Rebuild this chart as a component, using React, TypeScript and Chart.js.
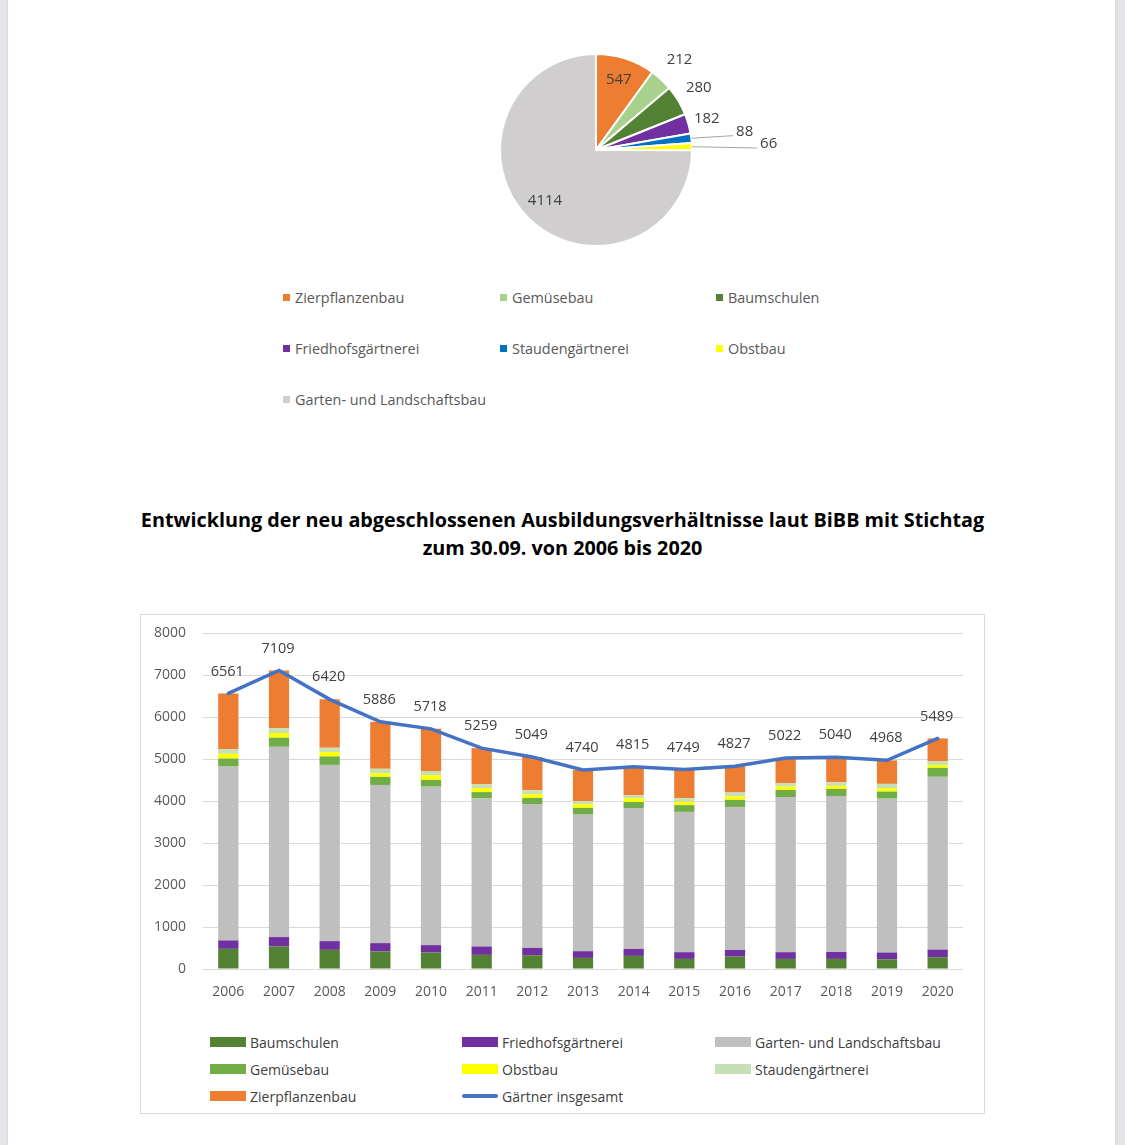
import React, { useEffect, useRef } from "react";
import { Chart, registerables } from "chart.js";
Chart.register(...registerables);

// ---------- Pie data (2020) ----------
const pieLabels = [
  "Zierpflanzenbau",
  "Gemüsebau",
  "Baumschulen",
  "Friedhofsgärtnerei",
  "Staudengärtnerei",
  "Obstbau",
  "Garten- und Landschaftsbau",
];
const pieValues = [547, 212, 280, 182, 88, 66, 4114];
const pieColors = ["#ED7D31", "#A9D18E", "#548235", "#7030A0", "#0070C0", "#FFFF00", "#D0CECE"];
// label distance from centre, as a factor of the radius
const pieLabelRadius = [0.77, 1.28, 1.25, 1.2, 1.56, 1.8, 0.75];
const pieLeader = [false, false, false, false, true, true, false];

// ---------- Bar data ----------
const years = ["2006", "2007", "2008", "2009", "2010", "2011", "2012", "2013", "2014", "2015", "2016", "2017", "2018", "2019", "2020"];
const baumschulen = [480, 536, 456, 416, 392, 336, 328, 264, 312, 240, 296, 240, 240, 232, 280];
const friedhof = [200, 224, 208, 200, 176, 200, 176, 160, 168, 160, 160, 160, 168, 160, 182];
const galabau = [4140, 4530, 4196, 3766, 3774, 3523, 3425, 3252, 3351, 3341, 3403, 3694, 3712, 3664, 4114];
const gemuese = [192, 216, 200, 192, 160, 152, 144, 160, 144, 160, 168, 168, 168, 168, 212];
const obstbau = [112, 112, 104, 88, 112, 96, 88, 88, 88, 80, 80, 80, 72, 80, 66];
const stauden = [112, 120, 104, 104, 88, 88, 96, 72, 72, 88, 96, 80, 88, 104, 88];
const zierpflanzen = [1325, 1371, 1152, 1120, 1016, 864, 792, 744, 680, 680, 624, 600, 592, 560, 547];
const gesamt = [6561, 7109, 6420, 5886, 5718, 5259, 5049, 4740, 4815, 4749, 4827, 5022, 5040, 4968, 5489];

const barSeries = [
  { label: "Baumschulen", data: baumschulen, color: "#548235" },
  { label: "Friedhofsgärtnerei", data: friedhof, color: "#7030A0" },
  { label: "Garten- und Landschaftsbau", data: galabau, color: "#BFBFBF" },
  { label: "Gemüsebau", data: gemuese, color: "#70AD47" },
  { label: "Obstbau", data: obstbau, color: "#FFFF00" },
  { label: "Staudengärtnerei", data: stauden, color: "#C5E0B4" },
  { label: "Zierpflanzenbau", data: zierpflanzen, color: "#ED7D31" },
];
const lineLabel = "Gärtner insgesamt";
const lineColor = "#4472C4";
const yTicks = [0, 1000, 2000, 3000, 4000, 5000, 6000, 7000, 8000];

const FONT = "'Open Sans', 'DejaVu Sans', sans-serif";

const pieLabelPlugin = {
  id: "pieLabels",
  afterDatasetsDraw(chart: any) {
    const ctx = chart.ctx;
    const meta = chart.getDatasetMeta(0);
    ctx.save();
    ctx.font = `15px ${FONT}`;
    ctx.textAlign = "center";
    ctx.textBaseline = "middle";
    meta.data.forEach((arc: any, i: number) => {
      const { x, y, startAngle, endAngle, outerRadius } = arc.getProps(["x", "y", "startAngle", "endAngle", "outerRadius"], true);
      const mid = (startAngle + endAngle) / 2;
      const r = outerRadius * pieLabelRadius[i];
      const lx = x + Math.cos(mid) * r;
      const ly = y + Math.sin(mid) * r;
      const text = String(pieValues[i]);
      if (pieLeader[i]) {
        const w = ctx.measureText(text).width;
        ctx.strokeStyle = "#A6A6A6";
        ctx.lineWidth = 1;
        ctx.beginPath();
        ctx.moveTo(x + Math.cos(mid) * outerRadius, y + Math.sin(mid) * outerRadius);
        ctx.lineTo(lx - w / 2 - 3, ly + 4);
        ctx.stroke();
      }
      ctx.fillStyle = "#404040";
      ctx.fillText(text, lx, ly);
    });
    ctx.restore();
  },
};

const lineLabelPlugin = {
  id: "lineLabels",
  afterDatasetsDraw(chart: any) {
    const ctx = chart.ctx;
    const idx = chart.data.datasets.findIndex((d: any) => d.type === "line");
    const meta = chart.getDatasetMeta(idx);
    ctx.save();
    ctx.font = `14.5px ${FONT}`;
    ctx.textAlign = "center";
    ctx.textBaseline = "middle";
    ctx.fillStyle = "#404040";
    meta.data.forEach((pt: any, i: number) => {
      ctx.fillText(String(gesamt[i]), pt.x - 1, pt.y - 22);
    });
    ctx.restore();
  },
};

function PieChart() {
  const ref = useRef<HTMLCanvasElement>(null);
  useEffect(() => {
    const chart = new Chart(ref.current as HTMLCanvasElement, {
      type: "pie",
      data: {
        labels: pieLabels,
        datasets: [
          {
            data: pieValues,
            backgroundColor: pieColors,
            borderColor: "#ffffff",
            borderWidth: 2,
          },
        ],
      },
      options: {
        animation: false,
        responsive: false,
        events: [],
        layout: { padding: { top: 23, bottom: 23, left: 103, right: 103 } },
        plugins: { legend: { display: false }, tooltip: { enabled: false } },
      },
      plugins: [pieLabelPlugin],
    });
    return () => chart.destroy();
  }, []);
  return (
    <canvas
      ref={ref}
      width={400}
      height={240}
      style={{ position: "absolute", left: 396, top: 30, width: 400, height: 240 }}
    />
  );
}

function BarChart() {
  const ref = useRef<HTMLCanvasElement>(null);
  useEffect(() => {
    const datasets: any[] = barSeries.map((s) => ({
      type: "bar",
      label: s.label,
      data: s.data,
      backgroundColor: s.color,
      borderWidth: 0,
      barPercentage: 0.4,
      categoryPercentage: 1,
      stack: "parts",
      order: 1,
    }));
    datasets.push({
      type: "line",
      label: lineLabel,
      data: gesamt,
      borderColor: lineColor,
      backgroundColor: lineColor,
      borderWidth: 3.5,
      pointRadius: 0,
      tension: 0,
      stack: "total",
      order: 0,
      borderCapStyle: "round",
    });
    const chart = new Chart(ref.current as HTMLCanvasElement, {
      type: "bar",
      data: { labels: years, datasets },
      options: {
        animation: false,
        responsive: false,
        events: [],
        layout: { padding: { top: 25, right: 21, left: 0, bottom: 0 } },
        plugins: { legend: { display: false }, tooltip: { enabled: false } },
        scales: {
          x: {
            stacked: true,
            grid: { display: false, drawTicks: false },
            border: { display: false },
            ticks: { color: "#595959", font: { family: FONT, size: 14 }, padding: 15 },
            afterFit: (s: any) => {
              s.height = 46;
              s.paddingLeft = 0;
              s.paddingRight = 0;
            },
          },
          y: {
            stacked: true,
            min: 0,
            max: 8000,
            afterBuildTicks: (s: any) => {
              s.ticks = yTicks.map((v) => ({ value: v }));
            },
            grid: { color: "#D9D9D9", lineWidth: 1, drawTicks: false },
            border: { display: false },
            ticks: {
              color: "#595959",
              font: { family: FONT, size: 14 },
              padding: 17,
              callback: (v: any) => String(v),
            },
            afterFit: (s: any) => {
              s.width = 62;
              s.paddingTop = 0;
              s.paddingBottom = 0;
            },
          },
        },
      },
      plugins: [lineLabelPlugin],
    });
    return () => chart.destroy();
  }, []);
  return (
    <canvas
      ref={ref}
      width={843}
      height={407}
      style={{ position: "absolute", left: 141, top: 608, width: 843, height: 407 }}
    />
  );
}

export default function App() {
  const pieCols = [283, 500, 716];
  const pieRows = [297, 348, 399];
  const barCols = [210, 462, 715];
  const barRows = [1042, 1069, 1096];
  const barLegend = [
    ...barSeries.map((s) => ({ label: s.label, color: s.color, line: false })),
    { label: lineLabel, color: lineColor, line: true },
  ];
  return (
    <div
      style={{
        position: "absolute",
        left: 0,
        top: 0,
        width: 1125,
        height: 1145,
        background: "#E4E4E9",
        overflow: "hidden",
        fontFamily: FONT,
      }}
    >
      <div
        style={{
          position: "absolute",
          left: 8,
          top: 0,
          width: 1107,
          height: 1145,
          background: "#ffffff",
          boxShadow: "0 0 3px rgba(0,0,0,0.12)",
        }}
      />
      <PieChart />
      {pieLabels.map((l, i) => (
        <div
          key={l}
          style={{
            position: "absolute",
            left: pieCols[i % 3],
            top: pieRows[Math.floor(i / 3)] - 10,
            height: 20,
            display: "flex",
            alignItems: "center",
            fontSize: 14.4,
            color: "#595959",
            whiteSpace: "nowrap",
          }}
        >
          <span style={{ width: 7, height: 7, background: pieColors[i], marginRight: 5, display: "inline-block" }} />
          {l}
        </div>
      ))}
      <div
        style={{
          position: "absolute",
          left: 0,
          width: 1125,
          top: 506,
          textAlign: "center",
          fontWeight: 700,
          fontSize: 19.8,
          lineHeight: "28px",
          color: "#000000",
        }}
      >
        Entwicklung der neu abgeschlossenen Ausbildungsverhältnisse laut BiBB mit Stichtag
        <br />
        zum 30.09. von 2006 bis 2020
      </div>
      <div
        style={{
          position: "absolute",
          left: 140,
          top: 614,
          width: 843,
          height: 498,
          border: "1px solid #D9D9D9",
        }}
      />
      <BarChart />
      {barLegend.map((l, i) => (
        <div
          key={l.label}
          style={{
            position: "absolute",
            left: barCols[i % 3],
            top: barRows[Math.floor(i / 3)] - 10,
            height: 20,
            display: "flex",
            alignItems: "center",
            fontSize: 14,
            color: "#404040",
            whiteSpace: "nowrap",
          }}
        >
          {l.line ? (
            <span style={{ width: 36, height: 4, borderRadius: 2, background: l.color, marginRight: 4, display: "inline-block" }} />
          ) : (
            <span style={{ width: 36, height: 10, background: l.color, marginRight: 4, display: "inline-block" }} />
          )}
          {l.label}
        </div>
      ))}
    </div>
  );
}
